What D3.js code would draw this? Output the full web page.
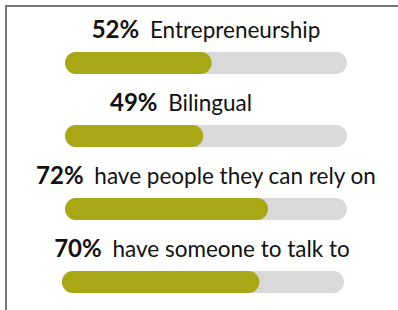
<!DOCTYPE html>
<html>
<head>
<meta charset="utf-8">
<script src="https://cdn.jsdelivr.net/npm/d3@7"></script>
<style>
  body { margin: 0; background: #fff; }
  svg { display: block; font-family: Lato, sans-serif; }
</style>
</head>
<body>
<div id="chart"></div>
<script>
// Data
const labels = ["Entrepreneurship", "Bilingual", "have people they can rely on", "have someone to talk to"];
const values = [52, 49, 72, 70];

// Layout tweaks per row (the original isn't perfectly aligned)
const labelShift = [0, -25, 0, -1];
const barShift = [0, 0, 0, -3];

const width = 398, height = 310;

const svg = d3.select("#chart")
    .append("svg")
    .attr("width", width)
    .attr("height", height);

// Frame (top and left edges visible)
svg.append("path")
    .attr("d", "M6,310V6H398")
    .attr("fill", "none")
    .attr("stroke", "#777")
    .attr("stroke-width", 2);

// Scales
const x = d3.scaleLinear().domain([0, 100]).range([65, 347]);
const y = d3.scaleBand()
    .domain(d3.range(values.length))
    .range([20, 20 + 73 * values.length])
    .paddingInner(0);

const barH = 22;

const rows = svg.selectAll("g.row")
    .data(values)
    .join("g")
    .attr("class", "row")
    .attr("transform", (d, i) => "translate(0," + y(i) + ")");

// Track
rows.append("rect")
    .attr("x", (d, i) => x(0) + barShift[i])
    .attr("y", 32)
    .attr("width", x(100) - x(0))
    .attr("height", barH)
    .attr("rx", barH / 2)
    .attr("fill", "#d9d9d9");

// Value
rows.append("rect")
    .attr("x", (d, i) => x(0) + barShift[i])
    .attr("y", 32)
    .attr("width", d => x(d) - x(0))
    .attr("height", barH)
    .attr("rx", barH / 2)
    .attr("fill", "#a8a816");

// Labels
const txt = rows.append("text")
    .attr("x", (d, i) => (x(0) + x(100)) / 2 + labelShift[i] + barShift[i])
    .attr("y", 18)
    .attr("text-anchor", "middle")
    .attr("fill", "#111");

txt.append("tspan")
    .attr("font-weight", 700)
    .attr("font-size", 24)
    .text(d => d + "%");

txt.append("tspan")
    .attr("dx", 5)
    .attr("font-size", 22.5)
    .text((d, i) => " " + labels[i]);
</script>
</body>
</html>
